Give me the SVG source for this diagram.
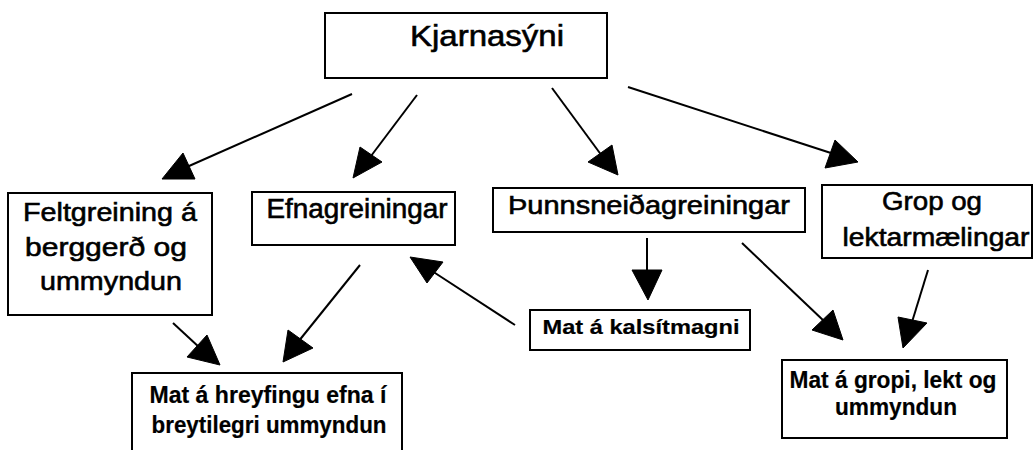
<svg xmlns="http://www.w3.org/2000/svg" width="1035" height="450" viewBox="0 0 1035 450">
<style>
.box{fill:#fff;stroke:#000;stroke-width:2}
.t{font-family:"Liberation Sans",Arial,sans-serif;fill:#000;text-anchor:middle;stroke:#000;stroke-width:0.6}
.b{font-weight:bold;stroke-width:0.2}
.ln{stroke:#000;stroke-width:2;fill:none}
.ah{fill:#000;stroke:#000;stroke-width:1;stroke-linejoin:miter}
</style>
<rect width="1035" height="450" fill="#fff"/>
<g id="connectors">
<line class="ln" x1="352" y1="94" x2="180" y2="170"/>
<polygon class="ah" points="162,179 183,153 195,179"/>
<line class="ln" x1="417" y1="95" x2="368" y2="160"/>
<polygon class="ah" points="353,178 360,147 382,162"/>
<line class="ln" x1="552" y1="88" x2="602" y2="156"/>
<polygon class="ah" points="618,175 588,162 612,145"/>
<line class="ln" x1="628" y1="87" x2="834" y2="154"/>
<polygon class="ah" points="858,162 825,168 835,140"/>
<line class="ln" x1="173" y1="323" x2="200" y2="348"/>
<polygon class="ah" points="220,365 187,357 207,335"/>
<line class="ln" x1="360" y1="265" x2="298" y2="342"/>
<polygon class="ah" points="283,362 288,330 313,348"/>
<line class="ln" x1="515" y1="325" x2="432" y2="271"/>
<polygon class="ah" points="410,257 443,262 427,283"/>
<line class="ln" x1="647" y1="238" x2="647" y2="272"/>
<polygon class="ah" points="648,300 632,270 662,270"/>
<line class="ln" x1="742" y1="243" x2="825" y2="322"/>
<polygon class="ah" points="843,340 812,330 833,310"/>
<line class="ln" x1="928" y1="270" x2="912" y2="322"/>
<polygon class="ah" points="903,348 898,317 927,323"/>
</g>
<g id="n-kjarnasyni">
<rect class="box" x="325" y="13" width="282" height="65"/>
<text class="t" x="487" y="46" font-size="30" textLength="154" lengthAdjust="spacingAndGlyphs">Kjarnasýni</text>
</g>
<g id="n-feltgreining">
<rect class="box" x="8" y="193" width="204" height="122"/>
<text class="t" x="110" y="221" font-size="26" textLength="174" lengthAdjust="spacingAndGlyphs">Feltgreining á</text>
<text class="t" x="106" y="256" font-size="26" textLength="162" lengthAdjust="spacingAndGlyphs">berggerð og</text>
<text class="t" x="111" y="290" font-size="26" textLength="142" lengthAdjust="spacingAndGlyphs">ummyndun</text>
</g>
<g id="n-efnagreiningar">
<rect class="box" x="252" y="192" width="203" height="53"/>
<text class="t" x="357" y="218" font-size="27" textLength="181" lengthAdjust="spacingAndGlyphs">Efnagreiningar</text>
</g>
<g id="n-thunnsneid">
<rect class="box" x="493" y="188" width="312" height="44"/>
<text class="t" x="649" y="214" font-size="26" textLength="282" lengthAdjust="spacingAndGlyphs">Þunnsneiðagreiningar</text>
</g>
<g id="n-grop">
<rect class="box" x="822" y="185" width="210" height="73"/>
<text class="t" x="932" y="210" font-size="26" textLength="100" lengthAdjust="spacingAndGlyphs">Grop og</text>
<text class="t" x="936" y="246" font-size="26" textLength="187" lengthAdjust="spacingAndGlyphs">lektarmælingar</text>
</g>
<g id="n-hreyfingu">
<rect class="box" x="132" y="373" width="270" height="80"/>
<text class="t b" x="268" y="403" font-size="24" textLength="237" lengthAdjust="spacingAndGlyphs">Mat á hreyfingu efna í</text>
<text class="t b" x="269" y="433" font-size="24" textLength="235" lengthAdjust="spacingAndGlyphs">breytilegri ummyndun</text>
</g>
<g id="n-kalsit">
<rect class="box" x="530" y="310" width="220" height="40"/>
<text class="t b" x="641" y="334" font-size="21" textLength="197" lengthAdjust="spacingAndGlyphs">Mat á kalsítmagni</text>
</g>
<g id="n-gropi">
<rect class="box" x="782" y="360" width="225" height="78"/>
<text class="t b" x="893" y="388" font-size="24" textLength="207" lengthAdjust="spacingAndGlyphs">Mat á gropi, lekt og</text>
<text class="t b" x="896" y="415" font-size="24" textLength="122" lengthAdjust="spacingAndGlyphs">ummyndun</text>
</g>
</svg>
